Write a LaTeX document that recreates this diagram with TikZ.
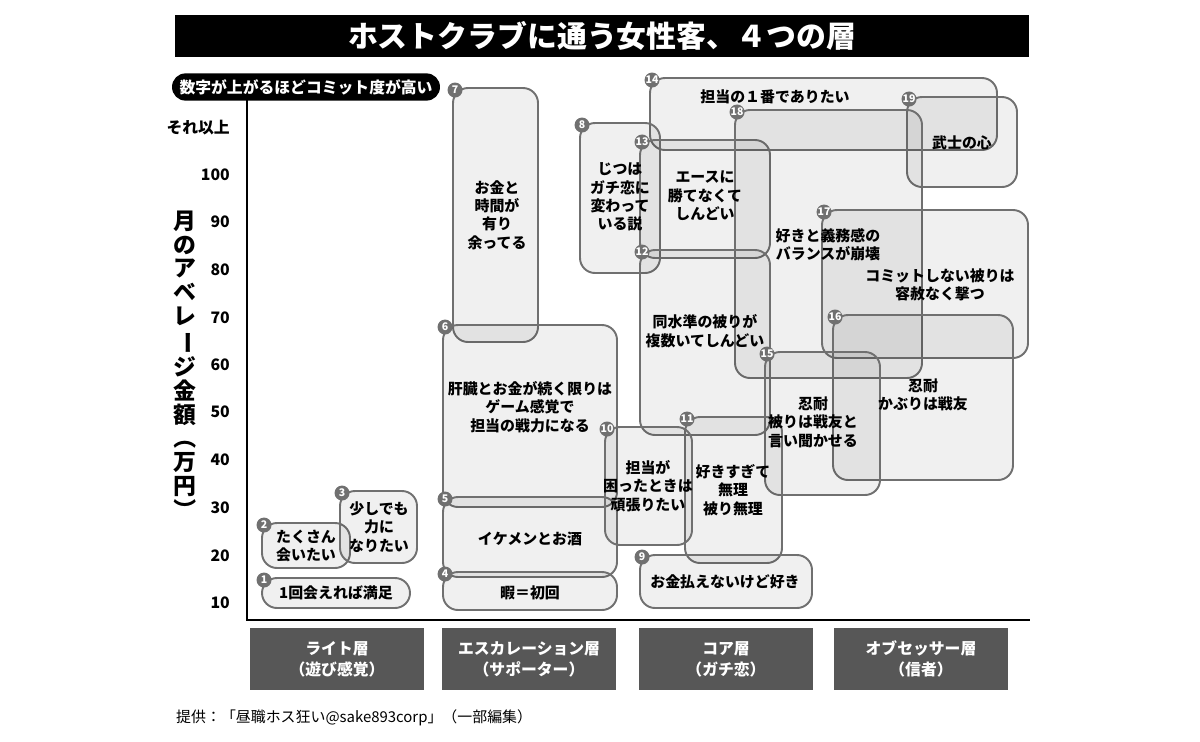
\documentclass[tikz,border=0pt]{standalone}
\usepackage{fontspec}
\setmainfont{Noto Sans CJK JP}
\usetikzlibrary{calc}
\definecolor{edgegray}{HTML}{707070}
\definecolor{bandgray}{HTML}{575757}
\tikzset{
  zone/.style={draw=edgegray, line width=1.1pt, fill=black, fill opacity=0.06,
    text opacity=1, rounded corners=0.3cm, inner sep=0pt},
  badge/.style={circle, fill=edgegray, text=white, inner sep=0pt, minimum size=0.3cm,
    font=\fontsize{6}{6}\selectfont\bfseries},
  lbl/.style={align=center, font=\fontsize{8.5}{10.5}\selectfont\bfseries},
  tick/.style={anchor=east, font=\fontsize{9}{10}\selectfont\bfseries},
  band/.style={fill=bandgray, text=white, align=center, minimum width=3.5cm,
    minimum height=1.24cm, font=\fontsize{9}{12}\selectfont\bfseries}
}
\newcommand{\zone}[5]{%
  \pgfmathsetmacro\zw{(#4-#2)*0.02}\pgfmathsetmacro\zh{(#5-#3)*0.02}
  \node[zone, minimum width=\zw cm, minimum height=\zh cm] (z#1) at ({(#2+#4)/2},{(#3+#5)/2}) {};
  \node[badge] (n#1) at ($(z#1.north west)+(3,3)$) {#1};}
\newcommand{\vch}[1]{\rotatebox[origin=c]{-90}{#1}}

\begin{document}
\begin{tikzpicture}[x=0.02cm, y=-0.02cm]
  \useasboundingbox (0,0) rectangle (1200,741);

  % title and subtitle
  \node[fill=black, text=white, minimum width=17.1cm, minimum height=0.86cm,
    font=\fontsize{17}{17}\selectfont\bfseries] (title) at (602,36) {ホストクラブに通う女性客、４つの層};
  \node[fill=black, text=white, rounded corners=0.27cm, minimum width=5.36cm, minimum height=0.54cm,
    font=\fontsize{9}{9}\selectfont\bfseries] (sub) at (306,87) {数字が上がるほどコミット度が高い};

  % axes
  \coordinate (top) at (247,100);
  \coordinate (origin) at (247,620);
  \coordinate (right) at (1030,620);
  \draw[line width=1.4pt] (top) -- (origin) -- (right);
  \node[tick] (ymore) at (236,128) {それ以上};
  \foreach \v/\y in {100/175,90/222,80/270,70/318,60/365,50/412,40/460,30/508,20/556,10/603}
    \node[tick] (y\v) at (236,\y) {\v};
  \node[align=center, font=\fontsize{13}{13.6}\selectfont\bfseries] (ytitle) at (185,366)
    {月\\の\\ア\\ベ\\レ\\\vch{ー}\\ジ\\金\\額\\\vch{（}\\万\\円\\\vch{）}};

  % zones
  \zone{1}{262}{578}{410}{608}
  \zone{2}{262}{523}{350}{568}
  \zone{3}{340}{491}{417}{563}
  \zone{7}{453}{88}{538}{342}
  \zone{6}{443}{325}{617}{507}
  \zone{5}{443}{497}{617}{577}
  \zone{4}{443}{572}{617}{610}
  \zone{14}{650}{78}{997}{150}
  \zone{19}{907}{97}{1017}{187}
  \zone{8}{580}{123}{660}{273}
  \zone{13}{640}{140}{770}{258}
  \zone{18}{735}{110}{922}{378}
  \zone{12}{640}{250}{770}{435}
  \zone{17}{822}{210}{1028}{358}
  \zone{16}{833}{315}{1013}{480}
  \zone{15}{765}{352}{880}{495}
  \zone{11}{685}{417}{782}{563}
  \zone{10}{605}{427}{692}{545}
  \zone{9}{640}{555}{812}{608}

  % zone texts
  \node[lbl] (t1) at (336,593) {1回会えれば満足};
  \node[lbl] (t2) at (306,546) {たくさん\\会いたい};
  \node[lbl] (t3) at (379,527) {少しでも\\力に\\なりたい};
  \node[lbl] (t7) at (497,215) {お金と\\時間が\\有り\\余ってる};
  \node[lbl] (t6) at (530,407) {肝臓とお金が続く限りは\\ゲーム感覚で\\担当の戦力になる};
  \node[lbl] (t5) at (530,539) {イケメンとお酒};
  \node[lbl] (t4) at (530,593) {暇＝初回};
  \node[lbl] (t14) at (775,97) {担当の１番でありたい};
  \node[lbl] (t19) at (962,143) {武士の心};
  \node[lbl] (t8) at (620,197) {じつは\\ガチ恋に\\変わって\\いる説};
  \node[lbl] (t13) at (705,196) {エースに\\勝てなくて\\しんどい};
  \node[lbl] (t18) at (828,245) {好きと義務感の\\バランスが崩壊};
  \node[lbl] (t17) at (940,285) {コミットしない被りは\\容赦なく撃つ};
  \node[lbl] (t12) at (705,331) {同水準の被りが\\複数いてしんどい};
  \node[lbl] (t16) at (923,395) {忍耐\\かぶりは戦友};
  \node[lbl] (t15) at (813,422) {忍耐\\被りは戦友と\\言い聞かせる};
  \node[lbl] (t11) at (733,490) {好きすぎて\\無理\\被り無理};
  \node[lbl] (t10) at (648,486) {担当が\\困ったときは\\頑張りたい};
  \node[lbl] (t9) at (725,582) {お金払えないけど好き};

  % layer bands
  \node[band] (light) at (337,659) {ライト層\\（遊び感覚）};
  \node[band] (escal) at (529,659) {エスカレーション層\\（サポーター）};
  \node[band] (core) at (726,659) {コア層\\（ガチ恋）};
  \node[band] (obses) at (921,659) {オブセッサー層\\（信者）};

  % source
  \node[anchor=west, font=\fontsize{8.5}{10}\selectfont] (src) at (170,718)
    {提供：「昼職ホス狂い@sake893corp」（一部編集）};
\end{tikzpicture}
\end{document}
